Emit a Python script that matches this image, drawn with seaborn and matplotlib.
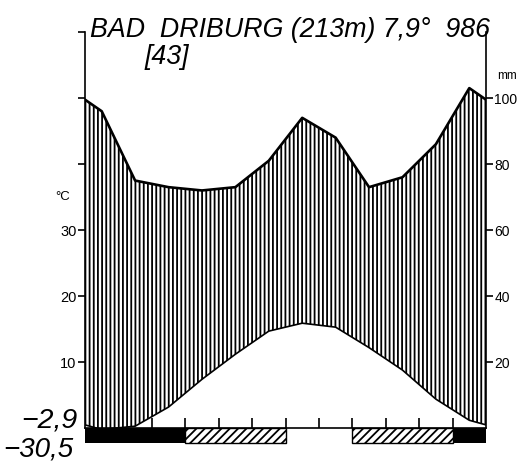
import numpy as np
import seaborn as sns
import matplotlib.pyplot as plt

# monthly means (Jan..Dec)
months = ["Jan", "Feb", "Mar", "Apr", "May", "Jun",
          "Jul", "Aug", "Sep", "Oct", "Nov", "Dec"]
temp_c = [-0.2, 0.3, 3.2, 7.4, 11.2, 14.7, 15.9, 15.3, 12.2, 8.8, 4.4, 1.2]
precip_mm = [96, 75, 73, 72, 73, 81, 94, 88, 73, 76, 86, 103]
# frost bar under the axis: black = mean daily min < 0, hatch = absolute min < 0
frost = ["black", "black", "black", "hatch", "hatch", "hatch",
         "none", "none", "hatch", "hatch", "hatch", "black"]

temp_ticks = [10, 20, 30]
precip_ticks = [20, 40, 60, 80, 100]
station = "BAD  DRIBURG (213m) 7,9°  986"
years = "[43]"
min_coldest = "−2,9"
abs_min = "−30,5"

sns.set_style("white")
plt.rcParams["font.family"] = ["Liberation Sans", "DejaVu Sans"]
plt.rcParams["hatch.linewidth"] = 1.3
plt.rcParams["text.color"] = "black"
plt.rcParams["xtick.color"] = "black"
plt.rcParams["ytick.color"] = "black"

W, H = 517, 461
fig = plt.figure(figsize=(W / 100, H / 100), dpi=100)
ax = fig.add_axes([85 / W, (H - 448) / H, 401 / W, (448 - 30) / H])
ax.set_xlim(0, 12)
ax.set_ylim(-3, 60.3)

# curves at mid-month, closed at the edges with the Dec/Jan mean
x = np.concatenate([[0], np.arange(12) + 0.5, [12]])
t = np.array(temp_c, dtype=float)
p = np.array(precip_mm, dtype=float) / 2  # 20 mm = 10 degC
t_ext = np.concatenate([[(t[0] + t[-1]) / 2], t, [(t[0] + t[-1]) / 2]])
p_ext = np.concatenate([[(p[0] + p[-1]) / 2], p, [(p[0] + p[-1]) / 2]])

ax.fill_between(x, t_ext, p_ext, where=p_ext >= t_ext, facecolor="white",
                edgecolor="black", hatch="||||", linewidth=0, zorder=1)
sns.lineplot(x=x, y=p_ext, ax=ax, color="black", linewidth=1.9, zorder=3)
sns.lineplot(x=x, y=t_ext, ax=ax, color="black", linewidth=1.2, zorder=3)

# frost bars, one bar per run of equal months
runs = []
start = 0
for i in range(1, 13):
    if i == 12 or frost[i] != frost[start]:
        runs.append((start, i - start, frost[start]))
        start = i
for s0, n, kind in runs:
    if kind == "black":
        ax.bar(s0, -2.3, width=n, align="edge", color="black",
               linewidth=0, zorder=4)
    elif kind == "hatch":
        ax.bar(s0, -2.3, width=n, align="edge", facecolor="white",
               edgecolor="black", hatch="////", linewidth=1.0, zorder=4)

# axes
ax.spines["top"].set_visible(False)
ax.spines["right"].set_visible(False)
ax.spines["bottom"].set_position(("data", 0))
ax.spines["bottom"].set_bounds(0, 12)
ax.spines["left"].set_bounds(0, 60)
for s in ["bottom", "left"]:
    ax.spines[s].set_color("black")
    ax.spines[s].set_linewidth(1.2)
ax.set_xticks(np.arange(1, 12))
ax.set_xticklabels([])
ax.tick_params(axis="x", direction="in", length=7, width=1.2, color="black",
               bottom=True)
ax.set_yticks(temp_ticks + [40, 50, 60])
ax.set_yticklabels([str(v) for v in temp_ticks] + ["", "", ""])
ax.tick_params(axis="y", direction="out", length=5, width=1.2, pad=1,
               labelsize=10.5, color="black", labelcolor="black", left=True)
ax.set_xlabel("")
ax.set_ylabel("")

ax2 = ax.twinx()
ax2.set_ylim(-6, 120.6)
for s in ["top", "bottom", "left"]:
    ax2.spines[s].set_visible(False)
ax2.spines["right"].set_bounds(0, 120)
ax2.spines["right"].set_linewidth(1.2)
ax2.spines["right"].set_color("black")
ax2.set_yticks(precip_ticks)
ax2.set_yticklabels([str(v) for v in precip_ticks])
ax2.tick_params(axis="y", direction="out", length=5, width=1.2, pad=1,
                labelsize=10, color="black", labelcolor="black", right=True)
ax2.set_ylabel("")

fig.text(55 / W, 1 - 200 / H, "°C", fontsize=9.5, ha="left", va="baseline")
fig.text(497 / W, 1 - 79 / H, "mm", fontsize=8.5, ha="left", va="baseline")

fig.text(90 / W, 1 - 37 / H, station, fontsize=19.3, style="italic",
         ha="left", va="baseline")
fig.text(145 / W, 1 - 64 / H, years, fontsize=19.3, style="italic",
         ha="left", va="baseline")
fig.text(77 / W, 1 - 427 / H, min_coldest, fontsize=20.5, style="italic",
         ha="right", va="baseline")
fig.text(73 / W, 1 - 456 / H, abs_min, fontsize=20, style="italic",
         ha="right", va="baseline")

fig.savefig("out.png", dpi=100)
